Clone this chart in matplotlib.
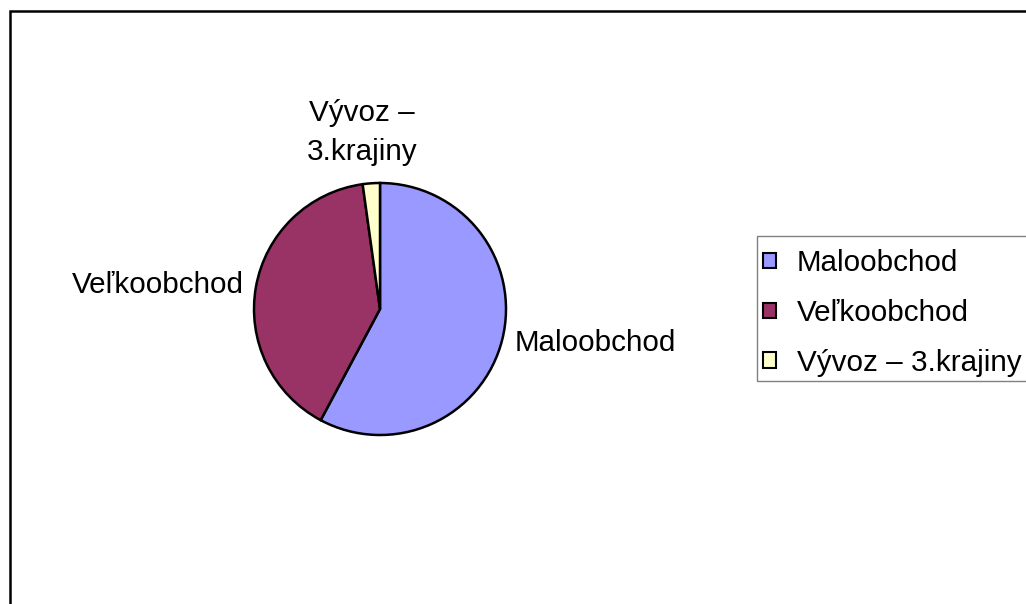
import matplotlib.pyplot as plt
from matplotlib.patches import Rectangle

plt.rcParams['font.family'] = ['Liberation Sans', 'DejaVu Sans']

kategorie = ['Maloobchod', 'Veľkoobchod', 'Vývoz – 3.krajiny']
popisky = ['Maloobchod', 'Veľkoobchod', 'Vývoz –\n3.krajiny']
podiely = [57.8, 40.0, 2.2]
farby = ['#9999FF', '#993366', '#FFFFCC']

W, H = 1026, 604
FS = 21.3
fig = plt.figure(figsize=(W / 100, H / 100), dpi=100)
fig.patch.set_facecolor('white')

# outer chart frame (cut off on the right and bottom)
fig.patches.append(Rectangle((10 / W, -0.1), 1.2, 1.1 - 11 / H, transform=fig.transFigure,
                             fill=False, edgecolor='black', linewidth=1.8, figure=fig))

cx, cy, r = 380, 309, 126
ax = fig.add_axes([(cx - r) / W, (H - cy - r) / H, 2 * r / W, 2 * r / H])
wedges, texts = ax.pie(podiely, labels=popisky, colors=farby, startangle=90, counterclock=False,
                       labeldistance=1.1,
                       wedgeprops=dict(edgecolor='black', linewidth=1.8),
                       textprops=dict(fontsize=FS, color='black'))
for w in wedges:
    w.set_clip_on(False)
texts[2].set_position((-0.14, 1.40))
texts[2].set_ha('center')
texts[2].set_va('center')
texts[2].set_multialignment('center')
texts[2].set_linespacing(1.5)
ax.set_xlim(-1, 1)
ax.set_ylim(-1, 1)
ax.set_aspect('equal')
ax.axis('off')

# legend box, also cut off on the right
fig.patches.append(Rectangle((757 / W, 1 - 381 / H), 0.5, 145 / H, transform=fig.transFigure,
                             facecolor='white', edgecolor='#808080', linewidth=1.0, figure=fig))
leg = fig.legend(wedges, kategorie, loc='upper left', bbox_to_anchor=(763 / W, 1 - 249 / H),
                 fontsize=FS, frameon=False, handlelength=0.43, handleheight=0.43,
                 handletextpad=0.72, labelspacing=0.74, borderpad=0, borderaxespad=0)
for h in leg.legend_handles:
    h.set_linewidth(1.5)

fig.savefig('out.png', dpi=100)
